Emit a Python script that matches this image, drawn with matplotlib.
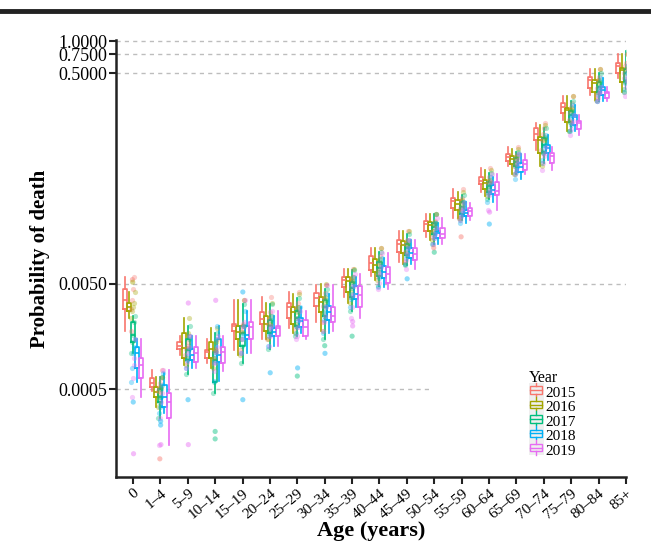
import numpy as np
import matplotlib
matplotlib.use("Agg")
import matplotlib.pyplot as plt
from matplotlib.patches import Patch, Rectangle
from matplotlib.lines import Line2D
from matplotlib.legend_handler import HandlerBase

plt.rcParams['font.family'] = ['Liberation Serif', 'DejaVu Serif']

ages = ["0", "1–4", "5–9", "10–14", "15–19", "20–24", "25–29", "30–34", "35–39",
        "40–44", "45–49", "50–54", "55–59", "60–64", "65–69", "70–74", "75–79",
        "80–84", "85+"]
years = ["2015", "2016", "2017", "2018", "2019"]
colors = ["#F8766D", "#A3A500", "#00BF7D", "#00B0F6", "#E76BF3"]

# box stats, one row per year
med = [
    [0.0035, 0.00058, 0.00129, 0.00113, 0.0020, 0.00233, 0.0030, 0.0037, 0.0055, 0.0079, 0.012, 0.0185, 0.0307, 0.047, 0.080, 0.132, 0.24, 0.43, 0.58],
    [0.0030, 0.00047, 0.00124, 0.00121, 0.00175, 0.0021, 0.0027, 0.0034, 0.0053, 0.0076, 0.0117, 0.018, 0.0286, 0.045, 0.076, 0.116, 0.224, 0.40, 0.53],
    [0.00164, 0.00042, 0.00118, 0.00095, 0.0017, 0.0020, 0.0024, 0.0030, 0.0046, 0.0071, 0.011, 0.0173, 0.0268, 0.042, 0.072, 0.104, 0.20, 0.37, 0.50],
    [0.0011, 0.00042, 0.00106, 0.00106, 0.00164, 0.00175, 0.00223, 0.0027, 0.0040, 0.0065, 0.0098, 0.0152, 0.0236, 0.039, 0.064, 0.097, 0.19, 0.345, 0.45],
    [0.00085, 0.00038, 0.00111, 0.00113, 0.00195, 0.0019, 0.00195, 0.0025, 0.0039, 0.0062, 0.0096, 0.015, 0.0245, 0.038, 0.069, 0.082, 0.167, 0.32, 0.42],
]
q1 = [
    [0.0029, 0.00053, 0.0012, 0.0010, 0.0018, 0.0021, 0.0024, 0.0031, 0.0047, 0.0068, 0.0101, 0.016, 0.026, 0.044, 0.073, 0.116, 0.21, 0.36, 0.50],
    [0.0028, 0.00042, 0.0010, 0.0010, 0.0015, 0.0018, 0.0021, 0.0027, 0.0042, 0.0065, 0.0098, 0.016, 0.025, 0.040, 0.069, 0.087, 0.17, 0.33, 0.41],
    [0.0014, 0.00038, 0.00095, 0.00059, 0.0013, 0.0017, 0.0020, 0.0025, 0.0038, 0.0060, 0.0095, 0.015, 0.023, 0.037, 0.066, 0.090, 0.17, 0.33, 0.42],
    [0.0008, 0.00034, 0.00095, 0.00091, 0.0015, 0.0016, 0.00195, 0.0023, 0.0036, 0.0057, 0.0088, 0.0137, 0.022, 0.036, 0.058, 0.087, 0.16, 0.31, 0.40],
    [0.00064, 0.00027, 0.00091, 0.00089, 0.0015, 0.0016, 0.0016, 0.0022, 0.0030, 0.0051, 0.0084, 0.0137, 0.022, 0.035, 0.060, 0.070, 0.148, 0.29, 0.37],
]
q3 = [
    [0.0045, 0.00064, 0.0014, 0.00119, 0.0021, 0.0027, 0.0033, 0.0041, 0.0058, 0.0092, 0.013, 0.0198, 0.033, 0.052, 0.085, 0.15, 0.26, 0.46, 0.62],
    [0.0033, 0.00053, 0.0017, 0.0014, 0.0020, 0.0025, 0.0030, 0.0038, 0.0058, 0.0086, 0.0128, 0.0194, 0.031, 0.048, 0.081, 0.124, 0.235, 0.43, 0.56],
    [0.0022, 0.00050, 0.0015, 0.00113, 0.0020, 0.0023, 0.0028, 0.0035, 0.0052, 0.0080, 0.012, 0.019, 0.030, 0.046, 0.078, 0.12, 0.22, 0.41, 0.55],
    [0.00126, 0.00055, 0.0012, 0.0015, 0.0020, 0.0019, 0.0024, 0.0031, 0.0048, 0.0074, 0.011, 0.016, 0.025, 0.043, 0.070, 0.104, 0.20, 0.37, 0.50],
    [0.0010, 0.00046, 0.00126, 0.00126, 0.0022, 0.0020, 0.0023, 0.0030, 0.0048, 0.0073, 0.011, 0.017, 0.026, 0.046, 0.075, 0.087, 0.175, 0.33, 0.46],
]
lo = [
    [0.0018, 0.00048, 0.00105, 0.0009, 0.00118, 0.0015, 0.0019, 0.0022, 0.0038, 0.0060, 0.0080, 0.014, 0.021, 0.037, 0.065, 0.093, 0.18, 0.31, 0.45],
    [0.0024, 0.00034, 0.00086, 0.0008, 0.00105, 0.0015, 0.0017, 0.0018, 0.0033, 0.0055, 0.0078, 0.013, 0.021, 0.034, 0.055, 0.065, 0.14, 0.28, 0.33],
    [0.0011, 0.00027, 0.0007, 0.00046, 0.0009, 0.0012, 0.0016, 0.0015, 0.0028, 0.0048, 0.0075, 0.012, 0.020, 0.032, 0.055, 0.070, 0.14, 0.27, 0.35],
    [0.00059, 0.00030, 0.0008, 0.0006, 0.0011, 0.0013, 0.0017, 0.0017, 0.0030, 0.0047, 0.0078, 0.012, 0.019, 0.030, 0.050, 0.075, 0.14, 0.27, 0.33],
    [0.00042, 0.00015, 0.0008, 0.00075, 0.0011, 0.0013, 0.0015, 0.0018, 0.0024, 0.0045, 0.0070, 0.012, 0.020, 0.025, 0.055, 0.060, 0.13, 0.27, 0.30],
]
hi = [
    [0.0058, 0.00077, 0.0016, 0.0015, 0.0035, 0.0038, 0.0042, 0.0049, 0.0070, 0.011, 0.016, 0.023, 0.040, 0.063, 0.10, 0.167, 0.30, 0.55, 0.75],
    [0.0042, 0.00065, 0.0024, 0.0019, 0.0035, 0.0033, 0.0040, 0.0050, 0.0070, 0.011, 0.016, 0.023, 0.037, 0.060, 0.095, 0.16, 0.30, 0.55, 0.75],
    [0.0025, 0.00065, 0.0020, 0.0017, 0.0032, 0.0032, 0.0037, 0.0045, 0.0068, 0.010, 0.015, 0.023, 0.035, 0.056, 0.09, 0.15, 0.27, 0.50, 0.80],
    [0.0015, 0.00072, 0.0016, 0.0020, 0.0028, 0.0025, 0.0030, 0.0040, 0.0058, 0.0088, 0.013, 0.019, 0.030, 0.052, 0.085, 0.13, 0.25, 0.45, 0.60],
    [0.0015, 0.00077, 0.0016, 0.0016, 0.0035, 0.0028, 0.0028, 0.0049, 0.0062, 0.0098, 0.013, 0.021, 0.029, 0.055, 0.085, 0.10, 0.20, 0.37, 0.55],
]

# stray points outside the boxes: age index, year index, value
extra_age = [0, 0, 0, 0, 1, 1, 1, 1, 2, 2, 2, 3, 3, 3, 4, 4, 5, 6, 6, 7, 7, 8, 8, 8, 10, 11, 11, 12, 13, 13]
extra_year = [4, 3, 0, 1, 0, 4, 3, 3, 4, 3, 4, 2, 2, 4, 3, 3, 3, 3, 2, 2, 3, 2, 4, 4, 3, 2, 0, 0, 3, 4]
extra_val = [0.000123, 0.00038, 0.0055, 0.0052, 0.00011, 0.00015, 0.00025, 0.00023, 0.00015, 0.0004,
             0.0033, 0.0002, 0.00017, 0.0035, 0.0004, 0.0042, 0.00072, 0.0008, 0.00067, 0.0013,
             0.0011, 0.0016, 0.0022, 0.0020, 0.0056, 0.010, 0.011, 0.014, 0.0185, 0.024]

fig = plt.figure(figsize=(6.51, 5.47), dpi=100)
ax = fig.add_axes([116/651, 1 - 477/547, (626 - 116)/651, (477 - 40)/547])
ax.set_yscale('log')
ax.set_ylim(7.4e-5, 1.028)
ax.set_xlim(-0.62, 18.0)

x = np.arange(len(ages))
dodge = [-0.3, -0.15, 0.0, 0.15, 0.3]

# dashed reference lines
for yv in [1.0, 0.75, 0.5, 0.005]:
    ax.axhline(yv, color='#BDBDBD', lw=1, ls=(0, (3, 3)), zorder=0)
ax.hlines(0.0005, -0.62, 10.9, color='#BDBDBD', lw=1, ls=(0, (3, 3)), zorder=0)

for j in range(len(years)):
    stats = []
    for i in range(len(ages)):
        stats.append(dict(med=med[j][i], q1=q1[j][i], q3=q3[j][i],
                          whislo=lo[j][i], whishi=hi[j][i], fliers=[]))
    c = colors[j]
    ax.bxp(stats, positions=x + dodge[j], widths=0.15, showfliers=False, showcaps=False,
           boxprops=dict(color=c, lw=1.2), whiskerprops=dict(color=c, lw=1.2),
           medianprops=dict(color=c, lw=1.2), manage_ticks=False, zorder=3)

# jittered points around the category centre
offs = [-0.07, -0.035, 0.0, 0.035, 0.07]
shift = [-0.02, -0.01, 0.0, 0.01, 0.02]
for j in range(len(years)):
    for k, arr in enumerate([lo, q1, med, q3, hi]):
        ax.scatter(x + offs[k] + shift[j], arr[j], s=14, color=colors[j], alpha=0.35,
                   lw=0, zorder=4)
ex_x = np.array(extra_age) + np.array([shift[y] for y in extra_year])
ax.scatter(ex_x, extra_val, s=14, color=[colors[y] for y in extra_year], alpha=0.45,
           lw=0, zorder=4)

ax.set_yticks([0.0005, 0.005, 0.5, 0.75, 1.0])
ax.set_yticklabels(["0.0005", "0.0050", "0.5000", "0.7500", "1.0000"], fontsize=13)
ax.yaxis.set_minor_locator(matplotlib.ticker.NullLocator())
ax.set_xticks(x)
ax.set_xticklabels(ages, fontsize=11, rotation=40, ha='right', rotation_mode='anchor')
ax.tick_params(axis='both', direction='out', length=5, width=1.5, color='#222222', pad=2)
ax.tick_params(axis='y', pad=1)

for s in ['top', 'right']:
    ax.spines[s].set_visible(False)
for s in ['left', 'bottom']:
    ax.spines[s].set_linewidth(1.8)
    ax.spines[s].set_color('#222222')

ax.set_ylabel("Probability of death", fontsize=15, fontweight='bold', labelpad=6)
ax.set_xlabel("Age (years)", fontsize=16, fontweight='bold', labelpad=0)


class BoxHandler(HandlerBase):
    def create_artists(self, legend, orig_handle, xd, yd, w, h, fontsize, trans):
        c = orig_handle.get_edgecolor()
        bg = Rectangle((xd, yd - 1), w, h + 2, fc='#EFEFEF', ec='none', transform=trans)
        box = Rectangle((xd + 0.1*w, yd + 0.2*h), 0.8*w, 0.6*h, fc='none', ec=c, lw=1.0,
                        transform=trans)
        mline = Line2D([xd + 0.1*w, xd + 0.9*w], [yd + 0.5*h]*2, color=c, lw=1.0, transform=trans)
        w1 = Line2D([xd + 0.5*w]*2, [yd - 1, yd + 0.2*h], color=c, lw=1.0, transform=trans)
        w2 = Line2D([xd + 0.5*w]*2, [yd + 0.8*h, yd + h + 1], color=c, lw=1.0, transform=trans)
        return [bg, box, mline, w1, w2]


handles = [Patch(edgecolor=c, facecolor='none') for c in colors]
leg = fig.legend(handles, years, loc='upper left', bbox_to_anchor=(521/651, 1 - 362/547),
                 title="Year", fontsize=11, title_fontsize=11.5, frameon=False,
                 handler_map={Patch: BoxHandler()}, handlelength=1.0, handleheight=0.85,
                 handletextpad=0.1, labelspacing=0.0, borderpad=0.0)
leg._legend_box.align = 'left'

fig.add_artist(Line2D([0, 1], [1 - 11/547]*2, color='#222222', lw=3.5))

fig.savefig("out.png", dpi=100)
